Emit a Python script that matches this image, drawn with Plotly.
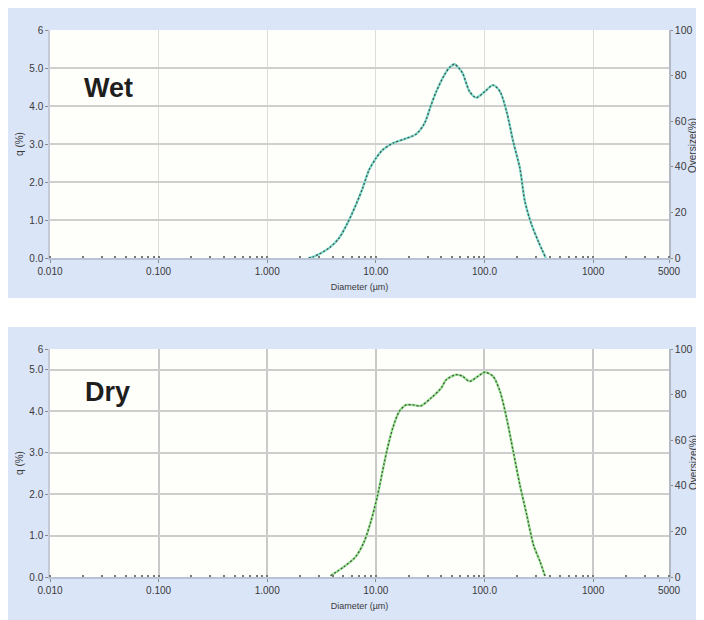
import math
import plotly.graph_objects as go

# ---------------- data ----------------
wet_diameter = [2.4, 2.65, 3.7, 4.57, 5.47, 6.53, 7.54, 8.67, 10.0, 11.5, 14.3, 18.3, 23.5,
                28.0, 32.3, 36.0, 42.8, 48.0, 53.0, 58.0, 63.0, 73.0, 84.0, 100.7, 120.0,
                139.0, 160.0, 184.0, 212.0, 236.0, 272.0, 314.0, 367.0]
wet_q = [0.0, 0.03, 0.26, 0.52, 0.91, 1.39, 1.83, 2.32, 2.62, 2.84, 3.02, 3.13, 3.26,
         3.54, 4.03, 4.38, 4.82, 5.02, 5.10, 5.00, 4.86, 4.38, 4.22, 4.38, 4.55,
         4.38, 3.85, 3.06, 2.36, 1.48, 0.87, 0.43, 0.0]

dry_diameter = [3.83, 5.1, 6.53, 7.8, 9.0, 10.4, 11.5, 12.8, 14.3, 16.4, 19.0, 22.0, 26.0,
                32.3, 40.0, 44.5, 55.0, 63.0, 73.0, 87.0, 100.7, 120.0, 139.0, 160.0,
                184.0, 212.0, 245.0, 283.0, 325.0, 361.0]
dry_q = [0.03, 0.25, 0.49, 0.85, 1.34, 1.98, 2.54, 3.11, 3.59, 3.99, 4.15, 4.15, 4.13,
         4.32, 4.56, 4.76, 4.88, 4.84, 4.72, 4.84, 4.94, 4.84, 4.48, 3.83,
         3.03, 2.22, 1.50, 0.77, 0.37, 0.02]

x_tickvals = [0.01, 0.1, 1, 10, 100, 1000, 5000]
x_ticktext = ["0.010", "0.100", "1.000", "10.00", "100.0", "1000", "5000"]
q_top_tickvals = [0, 1, 2, 3, 4, 5, 6]
q_top_ticktext = ["0.0", "1.0", "2.0", "3.0", "4.0", "5.0", "6"]
q_bot_tickvals = [0, 1, 2, 3, 4, 5, 5.5]
q_bot_ticktext = ["0.0", "1.0", "2.0", "3.0", "4.0", "5.0", "6"]
oversize_tickvals = [0, 20, 40, 60, 80, 100]

panel_labels = ["Wet", "Dry"]
right_title = "Oversize(%)"

# ---------------- layout geometry ----------------
# page body has an 8px margin, so figure coordinates = screen coordinates - 8
OFF = 8
W, H = 696, 612
def px(x):
    return (x - OFF) / W
def py(y):
    return 1 - (y - OFF) / H

x_dom = [px(50), px(669)]
top_dom = [py(258), py(30)]
bot_dom = [py(577), py(349)]

FONT = "Liberation Sans, Arial, Helvetica, sans-serif"
TXT = "#3a3a3a"

fig = go.Figure()

def add_curve(x, y, xa, ya, color):
    fig.add_trace(go.Scatter(x=x, y=y, xaxis=xa, yaxis=ya, mode="lines",
                             line=dict(color=color, width=2.4, shape="spline", smoothing=0.8),
                             hoverinfo="skip", showlegend=False))
    fig.add_trace(go.Scatter(x=x, y=y, xaxis=xa, yaxis=ya, mode="lines",
                             line=dict(color="#505050", width=1.3, dash="2px,2px",
                                       shape="spline", smoothing=0.8),
                             hoverinfo="skip", showlegend=False))

add_curve(wet_diameter, wet_q, "x", "y", "#7adfcc")
add_curve(dry_diameter, dry_q, "x2", "y3", "#94e68b")

# invisible traces so secondary axes render
fig.add_trace(go.Scatter(x=[1], y=[0], xaxis="x", yaxis="y2", mode="markers",
                         marker=dict(opacity=0), hoverinfo="skip", showlegend=False))
fig.add_trace(go.Scatter(x=[1], y=[0], xaxis="x2", yaxis="y4", mode="markers",
                         marker=dict(opacity=0), hoverinfo="skip", showlegend=False))

def xaxis_cfg(anchor, gridcolor, gridwidth):
    return dict(
        type="log", range=[math.log10(0.01), math.log10(5000)], domain=x_dom, anchor=anchor,
        tickmode="array", tickvals=x_tickvals, ticktext=x_ticktext,
        showgrid=True, gridcolor=gridcolor, gridwidth=gridwidth,
        showline=True, linecolor="#b9c3d6", linewidth=1.5,
        ticks="outside", ticklen=3, tickcolor="#8a8a8a",
        tickfont=dict(family=FONT, size=10, color=TXT),
        minor=dict(ticks="inside", ticklen=2, tickcolor="#777", tickwidth=1.5, showgrid=False,
                   dtick="D1"),
        title=dict(text="Diameter (µm)", font=dict(family=FONT, size=9, color=TXT), standoff=8),
        zeroline=False, fixedrange=True, automargin=False,
    )

def qaxis_cfg(anchor, dom, rng, tv, tt, gridcolor, gridwidth):
    return dict(
        domain=dom, anchor=anchor, range=rng, tickmode="array", tickvals=tv, ticktext=tt,
        showgrid=True, gridcolor=gridcolor, gridwidth=gridwidth,
        showline=True, linecolor="#c4cad6", linewidth=1.5,
        ticks="outside", ticklen=3, tickcolor="#8a8a8a",
        tickfont=dict(family=FONT, size=10, color=TXT),
        title=dict(text="q (%)", font=dict(family=FONT, size=10, color=TXT), standoff=4),
        zeroline=False, fixedrange=True, automargin=False,
    )

def oaxis_cfg(overlay, anchor):
    return dict(
        overlaying=overlay, anchor=anchor, side="right", range=[0, 100],
        tickmode="array", tickvals=oversize_tickvals, showgrid=False,
        showline=True, linecolor="#b3b9c4", linewidth=1.5,
        ticks="outside", ticklen=2, tickcolor="#8a8a8a", ticklabelstandoff=0,
        tickfont=dict(family=FONT, size=10.5, color=TXT),
        zeroline=False, fixedrange=True, automargin=False,
    )

def label(text, x, y):
    return dict(text="<b>%s</b>" % text, xref="paper", yref="paper", x=px(x), y=py(y),
                xanchor="left", yanchor="middle", showarrow=False,
                font=dict(family=FONT, size=27, color="#1e1e1e"))

def rtitle(y):
    return dict(text=right_title, xref="paper", yref="paper", x=px(693), y=py(y),
                xanchor="center", yanchor="middle", textangle=-90, showarrow=False,
                font=dict(family=FONT, size=10, color=TXT))

fig.update_layout(
    width=W, height=H, margin=dict(l=0, r=0, t=0, b=0, autoexpand=False),
    paper_bgcolor="white", plot_bgcolor="rgba(0,0,0,0)",
    xaxis=xaxis_cfg("y", "#dcdcdc", 1),
    yaxis=qaxis_cfg("x", top_dom, [0, 6], q_top_tickvals, q_top_ticktext, "#cfcfcf", 1.5),
    yaxis2=oaxis_cfg("y", "x"),
    xaxis2=xaxis_cfg("y3", "#c9c9c9", 2),
    yaxis3=qaxis_cfg("x2", bot_dom, [0, 5.5], q_bot_tickvals, q_bot_ticktext, "#cdcdcd", 2),
    yaxis4=oaxis_cfg("y3", "x2"),
    shapes=[
        dict(type="rect", xref="paper", yref="paper", x0=0, x1=1, y0=py(298), y1=1,
             fillcolor="#dbe5f8", line=dict(width=0), layer="below"),
        dict(type="rect", xref="paper", yref="paper", x0=0, x1=1, y0=0, y1=py(327),
             fillcolor="#dbe5f8", line=dict(width=0), layer="below"),
        dict(type="rect", xref="paper", yref="paper", x0=x_dom[0], x1=x_dom[1], y0=top_dom[0], y1=top_dom[1],
             fillcolor="#fefefb", line=dict(width=0), layer="below"),
        dict(type="rect", xref="paper", yref="paper", x0=x_dom[0], x1=x_dom[1], y0=bot_dom[0], y1=bot_dom[1],
             fillcolor="#fefefb", line=dict(width=0), layer="below"),
    ],
    annotations=[
        label(panel_labels[0], 82, 88),
        label(panel_labels[1], 83, 392),
        rtitle(146),
        rtitle(463),
    ],
)

fig.write_html("out.html")
